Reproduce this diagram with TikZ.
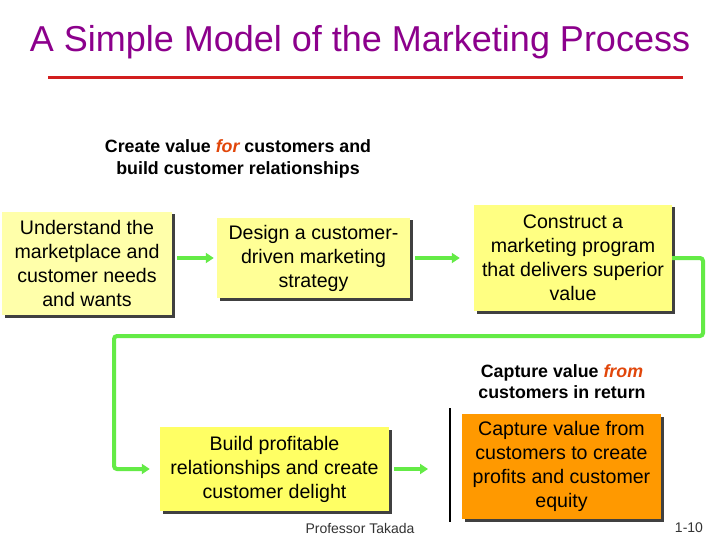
\documentclass[tikz,border=0pt]{standalone}
\usepackage{fontspec}
\setmainfont{Liberation Sans}
\usetikzlibrary{arrows.meta,shadows,calc}
\definecolor{titlepurple}{RGB}{140,0,140}
\definecolor{rulered}{RGB}{210,30,30}
\definecolor{flowgreen}{RGB}{100,235,70}
\definecolor{accent}{RGB}{225,70,10}
\definecolor{yA}{RGB}{255,255,170}
\definecolor{yB}{RGB}{255,255,150}
\definecolor{yC}{RGB}{255,255,130}
\definecolor{yD}{RGB}{255,255,100}
\definecolor{orangebox}{RGB}{255,153,0}
\tikzset{
  stepbox/.style={draw=none, align=center, inner sep=0pt,
    font=\fontsize{19.6}{24}\selectfont,
    drop shadow={shadow xshift=2.5pt, shadow yshift=-2.5pt, fill=black!75, opacity=1}},
  flow/.style={draw=flowgreen, line width=4pt, -{Triangle[length=8pt,width=10pt]}},
  lbl/.style={align=center, font=\fontsize{17.8}{21.5}\selectfont\bfseries}
}
\begin{document}
\begin{tikzpicture}[x=1pt,y=-1pt]
\useasboundingbox[fill=white] (0,0) rectangle (720,540);
\node[text=titlepurple, font=\fontsize{36}{40}\selectfont] (title) at (360,42) {A Simple Model of the Marketing Process};
\coordinate (r1) at (48,78);
\coordinate (r2) at (683,78);
\draw[rulered, line width=3pt] (r1) -- (r2);

\node[lbl] (top) at (238,159) {Create value \textcolor{accent}{\itshape for} customers and\\build customer relationships};
\node[lbl] (bot) at (562,381.5) {Capture value \textcolor{accent}{\itshape from}\\customers in return};

\node[stepbox, fill=yA, minimum width=170pt, minimum height=103pt] (b1) at (87,263.5) {Understand the\\marketplace and\\customer needs\\and wants};
\node[stepbox, fill=yB, minimum width=193pt, minimum height=80pt] (b2) at (313.5,258) {Design a customer-\\driven marketing\\strategy};
\node[stepbox, fill=yC, minimum width=198pt, minimum height=106pt] (b3) at (573,258) {Construct a\\marketing program\\that delivers superior\\value};
\node[stepbox, fill=yD, minimum width=229pt, minimum height=84pt] (b4) at (274.5,469) {Build profitable\\relationships and create\\customer delight};
\node[stepbox, fill=orangebox, minimum width=199pt, minimum height=105pt] (b5) at (561.5,466.5) {Capture value from\\customers to create\\profits and customer\\equity};

\draw[flow, shorten <=5pt, shorten >=3pt] (b1.east |- b2.west) -- (b2.west);
\draw[flow, shorten <=5pt, shorten >=14pt] (b2.east) -- (b3.west |- b2.east);
\coordinate (c1) at (703,336);
\coordinate (c2) at (114,336);
\draw[flow, rounded corners=3pt, shorten >=10pt] (b3.east) -| (c1) -- (c2) |- (b4.west);
\coordinate (v1) at (450,408);
\coordinate (v2) at (450,522);
\draw[black, line width=1.5pt] (v1) -- (v2);
\draw[flow, shorten <=5pt, shorten >=22pt] (b4.east) -- (v1 |- b4.east);

\node[text=black!80, font=\fontsize{14}{16}\selectfont] (prof) at (360,528) {Professor Takada};
\node[text=black!80, font=\fontsize{14}{16}\selectfont] (pg) at (689,528) {1-10};
\end{tikzpicture}
\end{document}
